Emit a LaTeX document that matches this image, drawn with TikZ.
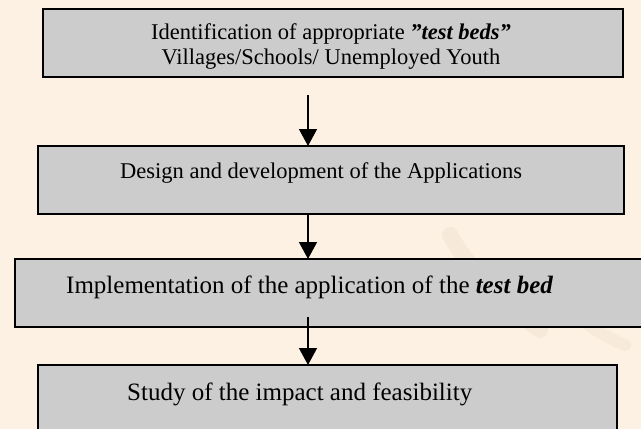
\documentclass[tikz,border=0pt]{standalone}
\usepackage{fontspec}
\setmainfont{Liberation Serif}
\usetikzlibrary{arrows.meta}
\definecolor{bgc}{HTML}{FDF1E3}
\definecolor{boxgray}{HTML}{CCCCCC}
\definecolor{smudge}{HTML}{EADBCB}
\begin{document}
\begin{tikzpicture}[x=1pt,y=-1pt,
  boxstyle/.style={draw=black, line width=1.5pt, fill=boxgray, anchor=north west, inner sep=0pt, outer sep=0pt},
  arr/.style={line width=1.5pt, -{Triangle[length=17pt,width=18pt]}},
  lblA/.style={anchor=base, inner sep=0pt, font=\fontsize{22.5}{25}\selectfont},
  lblB/.style={anchor=base west, inner sep=0pt, font=\fontsize{25}{28}\selectfont}]
\fill[bgc] (0,0) rectangle (641,429);
\useasboundingbox (0,0) rectangle (641,429);
\begin{scope}
\clip (0,0) rectangle (641,429);
% faint background smudges
\draw[smudge, line width=16pt, line cap=round, opacity=0.35] (450,235) .. controls (470,270) and (500,300) .. (540,330);
\draw[smudge, line width=12pt, line cap=round, opacity=0.3] (560,300) .. controls (580,320) and (600,335) .. (625,345);
% boxes
\node[boxstyle, minimum width=580pt, minimum height=68pt] (b1) at (43,9) {};
\node[boxstyle, minimum width=586pt, minimum height=68pt] (b2) at (38,146) {};
\node[boxstyle, minimum width=650pt, minimum height=68pt] (b3) at (15,259) {};
\node[boxstyle, minimum width=579pt, minimum height=80pt] (b4) at (38,365) {};
\end{scope}
% texts
\node[lblA] (t1a) at (331,39) {Identification of appropriate \textbf{\textit{\char34 test beds\char34}}};
\node[lblA] (t1b) at (331,64) {Villages/Schools/ Unemployed Youth};
\node[lblA, anchor=base west] (t2) at (120,178) {Design and development of the Applications};
\node[lblB] (t3) at (66,293) {Implementation of the application of the \textbf{\textit{test bed}}};
\node[lblB] (t4) at (127,400) {Study of the impact and feasibility};
% arrows
\coordinate (s1) at (308,95);
\coordinate (s2) at (308,214);
\coordinate (s3) at (308,317);
\draw[arr] (s1) -- (s1 |- b2.north);
\draw[arr] (s2) -- (s2 |- b3.north);
\draw[arr] (s3) -- (s3 |- b4.north);
\end{tikzpicture}
\end{document}
